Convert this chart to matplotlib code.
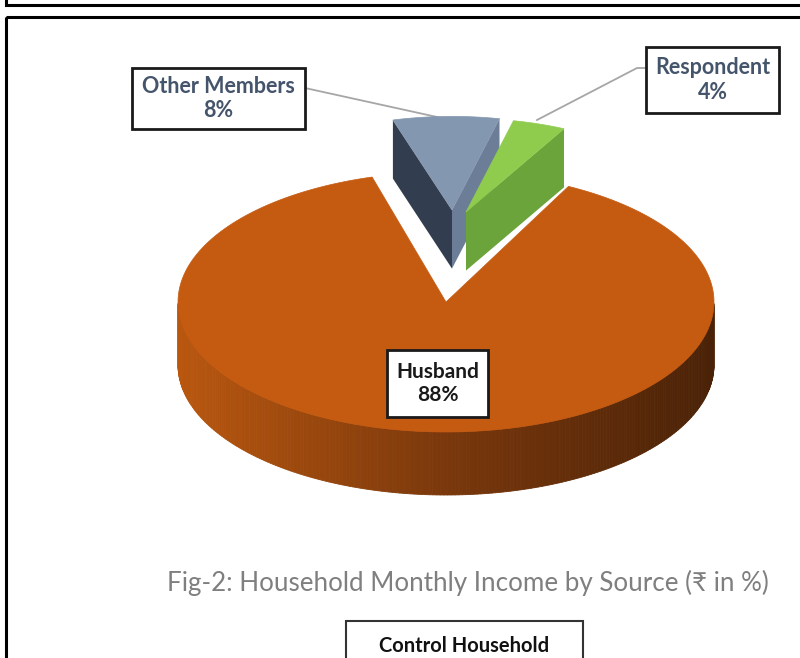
import numpy as np
import matplotlib
matplotlib.use("Agg")
import matplotlib.pyplot as plt
from matplotlib.patches import Polygon, Rectangle
from matplotlib.colors import LinearSegmentedColormap

# data
labels = ["Husband", "Other Members", "Respondent"]
values = [88, 8, 4]
title = "Fig-2: Household Monthly Income by Source (\u20b9 in %)"
subtitle = "Control Household"

# colours: top face, wall at the high-angle edge, wall at the low-angle edge
top_cols = ["#C55A11", "#8497B0", "#8FCC4E"]
hi_cols = ["#8A3F0C", "#323E4F", "#6BA43B"]
lo_cols = ["#8A3F0C", "#6B7D97", "#6BA43B"]
wall_cmap = LinearSegmentedColormap.from_list("wall", ["#B9570F", "#7A380C", "#4A2207"])

# geometry of the fake 3d pie (pixel units, y pointing down)
cx, cy = 446, 302
rx, ry = 268, 130
depth = 63
start = 62.8  # degrees, slices run clockwise from here
# per slice: shift x, shift y, scale x, scale y (exploded slices sit further back)
explode = [(0, 0, 1.0, 1.0), (6, -92, 0.8, 0.72), (20, -90, 0.8, 0.72)]

plt.rcParams["font.family"] = ["Lato", "DejaVu Sans"]

fig = plt.figure(figsize=(8, 6.58), dpi=100)
ax = fig.add_axes([0, 0, 1, 1])
ax.set_xlim(0, 800)
ax.set_ylim(658, 0)
ax.axis("off")


def pt(x0, y0, sx, sy, th, dz=0):
    t = np.radians(th)
    return (x0 + rx * sx * np.cos(t), y0 - ry * sy * np.sin(t) + dz)


angle = start
for i, v in enumerate(values):
    span = v / sum(values) * 360
    hi = angle
    lo = angle - span
    angle = lo
    dx, dy, sx, sy = explode[i]
    x0, y0 = cx + dx, cy + dy
    d = depth * (0.93 if i else 1.0)
    z = 10 + i * 3

    # outer wall, front half only, in thin strips for the shading
    ths = np.linspace(lo, hi, 400)
    front = ths[np.sin(np.radians(ths)) < 0]
    if len(front) > 1:
        for a, b in zip(front[:-1], front[1:]):
            p1, p2 = pt(x0, y0, sx, sy, a), pt(x0, y0, sx, sy, b)
            p3, p4 = pt(x0, y0, sx, sy, b, d), pt(x0, y0, sx, sy, a, d)
            c = wall_cmap((np.cos(np.radians((a + b) / 2)) + 1) / 2)
            ax.add_patch(Polygon([p1, p2, p3, p4], closed=True, fc=c, ec=c, lw=0.6, zorder=z))

    # radial walls that face the viewer
    if np.cos(np.radians(hi)) < 0:
        r1, r2 = pt(x0, y0, sx, sy, hi), pt(x0, y0, sx, sy, hi, d)
        ax.add_patch(Polygon([(x0, y0), r1, r2, (x0, y0 + d)], closed=True,
                             fc=hi_cols[i], ec="none", zorder=z + 0.5))
    if np.cos(np.radians(lo)) > 0:
        r1, r2 = pt(x0, y0, sx, sy, lo), pt(x0, y0, sx, sy, lo, d)
        ax.add_patch(Polygon([(x0, y0), r1, r2, (x0, y0 + d)], closed=True,
                             fc=lo_cols[i], ec="none", zorder=z + 0.5))

    # top face
    arc = [pt(x0, y0, sx, sy, t) for t in np.linspace(lo, hi, 200)]
    ax.add_patch(Polygon([(x0, y0)] + arc, closed=True, fc=top_cols[i],
                         ec=top_cols[i], lw=0.5, zorder=z + 1))

# leader lines
ax.plot([305, 437], [88, 117], color="#A6A6A6", lw=1.3, zorder=5)
ax.plot([646, 637, 537], [68, 68, 120], color="#A6A6A6", lw=1.3, zorder=5)

# data label boxes
boxes = [(387, 350, 101, 67, "#1A1A1A", 15),
         (132, 68, 173, 61, "#44546A", 15.5),
         (646, 47, 133, 66, "#44546A", 15.5)]
for i, (bx, by, bw, bh, tc, fs) in enumerate(boxes):
    ax.add_patch(Rectangle((bx, by), bw, bh, fc="white", ec="#1A1A1A", lw=2, zorder=30))
    ax.text(bx + bw / 2, by + bh / 2, f"{labels[i]}\n{values[i]}%", ha="center",
            va="center", fontsize=fs, fontweight="bold", color=tc,
            linespacing=1.2, zorder=31)

# title and subtitle box
ax.text(468, 583, title, ha="center", va="center", fontsize=18.7, color="#7F7F7F")
ax.add_patch(Rectangle((346, 621), 237, 60, fc="white", ec="#333333", lw=1.5, zorder=30))
ax.text(464, 646, subtitle, ha="center", va="center", fontsize=14.5,
        fontweight="bold", color="#111111", zorder=31)

# frames
ax.add_patch(Rectangle((6, -60), 820, 65, fc="none", ec="black", lw=2.2, clip_on=False))
ax.add_patch(Rectangle((6, 17), 820, 700, fc="none", ec="black", lw=2.2, clip_on=False))

fig.savefig("out.png", dpi=100)
